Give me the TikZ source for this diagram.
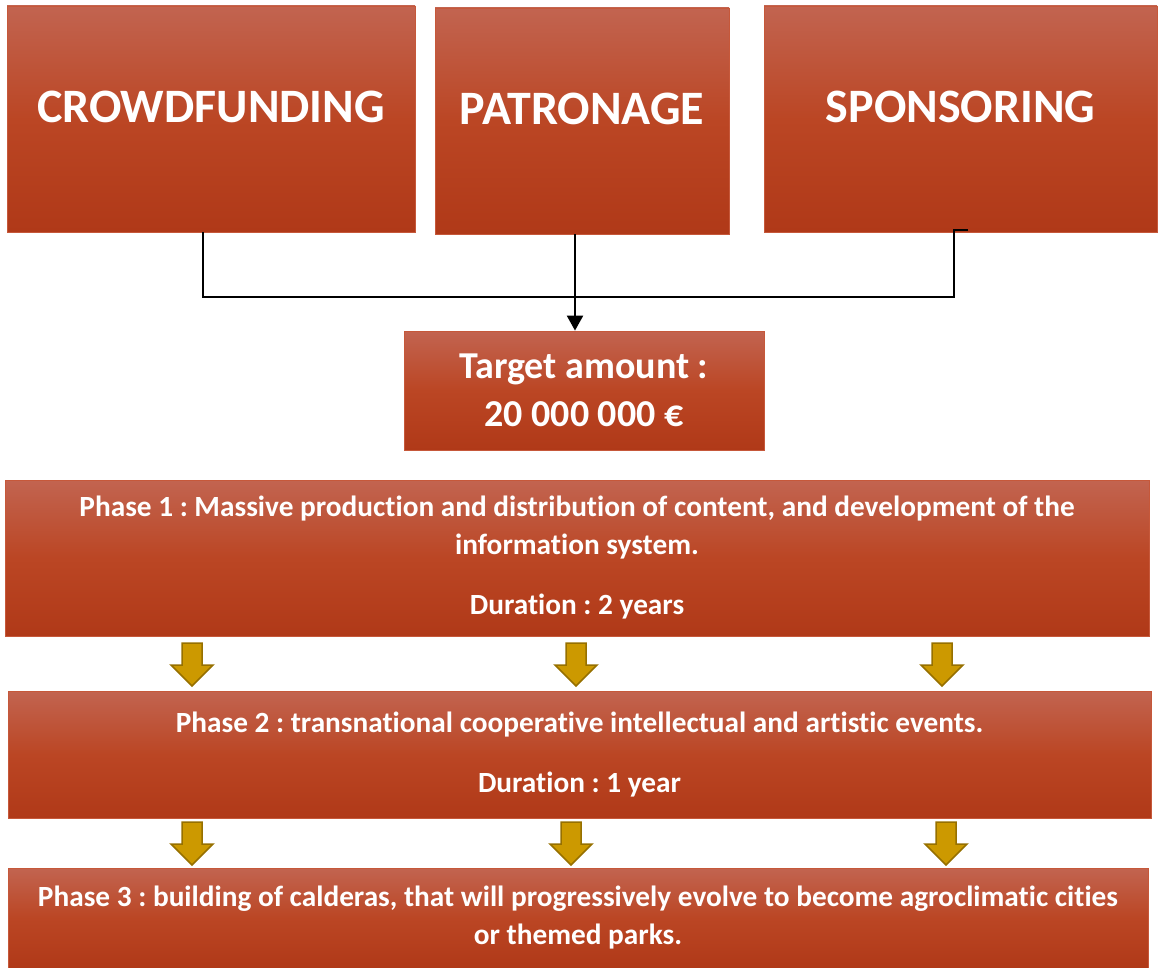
\documentclass[tikz,border=0pt]{standalone}
\usepackage{fontspec}
\setmainfont{Carlito}[Ligatures=NoCommon]
\usetikzlibrary{arrows.meta}
\definecolor{boxtop}{RGB}{194,100,80}
\definecolor{boxmid}{RGB}{187,70,36}
\definecolor{boxbot}{RGB}{176,57,24}
\definecolor{boxedge}{RGB}{198,88,58}
\definecolor{goldfill}{RGB}{204,153,0}
\definecolor{goldedge}{RGB}{150,112,0}
\frenchspacing
\tikzset{
  redbox/.style={draw=boxedge, line width=0.8pt, top color=boxtop,
    bottom color=boxbot, middle color=boxmid, text=white, align=center,
    inner sep=0pt},
  bigtext/.style={font=\fontsize{48}{57}\selectfont\bfseries, text depth=24pt},
  midtext/.style={font=\fontsize{38}{48}\selectfont\bfseries},
  phasetext/.style={font=\fontsize{29.3}{38}\selectfont\bfseries},
  link/.style={line width=2.2pt, black},
  goldarrow/.pic={
    \draw[fill=goldfill, draw=goldedge, line width=1.5pt, line join=miter]
      (-10,0) -- (-10,22) -- (-21,22) -- (0,43) -- (21,22) -- (10,22) -- (10,0) -- cycle;}
}
\begin{document}
\begin{tikzpicture}[x=1pt, y=-1pt]
  \useasboundingbox (0,0) rectangle (1161,968);
  % sources
  \node[redbox, bigtext, minimum width=408pt, minimum height=226pt] (crowd) at (211,119) {CROWDFUNDING};
  \node[redbox, bigtext, minimum width=294pt, minimum height=226pt] (patron) at (582,121) {PATRONAGE};
  \node[redbox, bigtext, minimum width=393pt, minimum height=226pt] (sponsor) at (960.5,119) {SPONSORING};
  % target
  \node[redbox, midtext, minimum width=360pt, minimum height=119pt] (target) at (584,390.5) {Target amount :\\ 20 000 000 €};
  % phases
  \node[redbox, phasetext, minimum width=1144pt, minimum height=156pt, text depth=6pt] (phase1) at (577,558)
    {Phase 1 : Massive production and distribution of content, and development of the\\ information system.\\[22pt] Duration : 2 years};
  \node[redbox, phasetext, minimum width=1143pt, minimum height=127pt] (phase2) at (579.5,754.5)
    {Phase 2 : transnational cooperative intellectual and artistic events.\\[22pt] Duration : 1 year};
  \node[redbox, phasetext, minimum width=1140pt, minimum height=100pt] (phase3) at (578,918)
    {Phase 3 : building of calderas, that will progressively evolve to become agroclimatic cities\\ or themed parks.};
  % connectors
  \coordinate (join) at (575,297);
  \draw[link] ([xshift=-8pt]crowd.south) |- (join);
  \draw[link] ([xshift=14pt,yshift=2pt]sponsor.south west -| 954,0) -- ++(-14,0) |- (join);
  \draw[link, -{Triangle[width=16pt, length=15pt]}] ([xshift=-7pt]patron.south) -- (target.north -| join);
  % arrows between phases
  \foreach \x in {192,576,942} \pic at (\x,643) {goldarrow};
  \foreach \x in {192,571,946} \pic at (\x,822) {goldarrow};
\end{tikzpicture}
\end{document}
